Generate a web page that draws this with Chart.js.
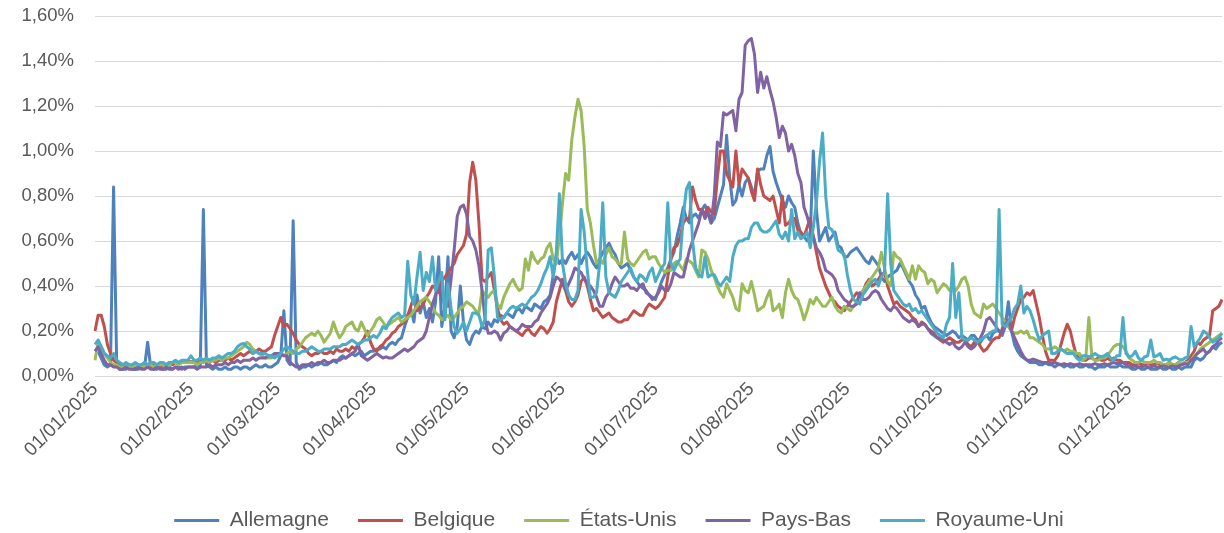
<!DOCTYPE html>
<html>
<head>
<meta charset="utf-8">
<title>Taux quotidien 2025</title>
<script src="https://cdn.jsdelivr.net/npm/chart.js@4.4.1/dist/chart.umd.min.js"></script>
<style>
  html, body { margin: 0; padding: 0; background: #ffffff; }
  #wrap { width: 1224px; height: 533px; }
</style>
</head>
<body>
<div id="wrap"><canvas id="rateChart" width="1224" height="533"></canvas></div>
<script>
// series names and colours, in legend order
const countries = ["Allemagne", "Belgique", "États-Unis", "Pays-Bas", "Royaume-Uni"];
const colors = ["#4F81BD", "#C0504D", "#9BBB59", "#8064A2", "#4BACC6"];

// y axis: 0 % to 1,60 % by 0,20 %
const yMin = 0, yMax = 1.6, yStep = 0.2;

// daily values in %, 01/01/2025 .. 31/12/2025 (one line per month)
const allemagne = [
  0.12,0.11,0.08,0.05,0.04,0.05,0.84,0.06,0.03,0.03,0.03,0.04,0.03,0.03,0.03,0.04,0.04,0.15,0.04,0.03,0.03,0.04,0.03,0.03,0.04,0.03,0.04,0.04,0.03,0.04,0.04,
  0.04,0.04,0.05,0.04,0.74,0.05,0.04,0.03,0.04,0.03,0.03,0.04,0.03,0.03,0.04,0.04,0.03,0.04,0.04,0.03,0.04,0.05,0.04,0.04,0.05,0.04,0.04,0.05,
  0.06,0.09,0.29,0.07,0.05,0.69,0.06,0.03,0.04,0.04,0.05,0.04,0.05,0.05,0.06,0.05,0.05,0.06,0.07,0.06,0.08,0.09,0.08,0.09,0.10,0.09,0.10,0.11,0.09,0.10,0.11,
  0.11,0.12,0.12,0.13,0.12,0.14,0.15,0.14,0.16,0.17,0.22,0.26,0.30,0.24,0.36,0.28,0.33,0.26,0.30,0.24,0.33,0.53,0.22,0.31,0.53,0.20,0.17,0.22,0.40,0.24,
  0.16,0.14,0.18,0.20,0.19,0.22,0.21,0.24,0.22,0.25,0.24,0.27,0.26,0.28,0.27,0.26,0.29,0.30,0.28,0.31,0.30,0.29,0.32,0.31,0.30,0.33,0.34,0.36,0.45,0.53,0.50,
  0.52,0.50,0.53,0.55,0.52,0.54,0.50,0.53,0.55,0.53,0.50,0.48,0.52,0.55,0.57,0.59,0.56,0.54,0.50,0.48,0.49,0.50,0.47,0.44,0.42,0.40,0.39,0.38,0.36,0.35,
  0.34,0.38,0.42,0.45,0.48,0.52,0.55,0.62,0.68,0.75,0.70,0.68,0.71,0.72,0.70,0.74,0.76,0.72,0.68,0.70,0.75,0.80,0.85,1.07,0.88,0.76,0.78,0.85,0.80,0.86,0.88,
  0.84,0.80,0.91,0.92,0.92,0.98,1.02,0.91,0.86,0.82,0.78,0.75,0.80,0.77,0.75,0.68,0.63,0.62,0.60,0.62,1.00,0.74,0.60,0.63,0.66,0.60,0.62,0.64,0.58,0.57,0.53,
  0.53,0.55,0.56,0.57,0.55,0.53,0.51,0.50,0.53,0.51,0.49,0.44,0.42,0.44,0.45,0.46,0.47,0.50,0.48,0.45,0.42,0.40,0.36,0.34,0.30,0.31,0.27,0.24,0.22,0.21,
  0.20,0.19,0.18,0.19,0.20,0.19,0.17,0.18,0.17,0.16,0.18,0.18,0.16,0.15,0.17,0.18,0.16,0.19,0.20,0.20,0.18,0.22,0.33,0.20,0.14,0.11,0.09,0.08,0.07,0.06,0.06,
  0.06,0.05,0.05,0.06,0.05,0.05,0.04,0.05,0.05,0.04,0.05,0.04,0.04,0.05,0.04,0.04,0.05,0.04,0.04,0.03,0.04,0.04,0.04,0.05,0.04,0.04,0.04,0.05,0.04,0.04,
  0.04,0.03,0.03,0.04,0.03,0.03,0.04,0.03,0.03,0.03,0.04,0.03,0.03,0.04,0.03,0.03,0.04,0.03,0.04,0.04,0.04,0.07,0.08,0.07,0.08,0.10,0.11,0.13,0.12,0.14,0.15
];
const belgique = [
  0.20,0.27,0.27,0.22,0.14,0.10,0.07,0.06,0.05,0.05,0.04,0.05,0.04,0.04,0.05,0.04,0.05,0.05,0.04,0.05,0.05,0.04,0.05,0.05,0.06,0.05,0.06,0.06,0.06,0.06,0.07,
  0.06,0.07,0.06,0.06,0.07,0.06,0.07,0.07,0.06,0.07,0.07,0.07,0.08,0.07,0.08,0.09,0.10,0.09,0.10,0.11,0.10,0.11,0.12,0.11,0.11,0.12,0.13,0.18,
  0.22,0.26,0.22,0.23,0.21,0.19,0.16,0.14,0.13,0.12,0.10,0.09,0.10,0.10,0.11,0.10,0.10,0.11,0.10,0.12,0.11,0.11,0.12,0.11,0.13,0.12,0.14,0.15,0.17,0.20,0.15,
  0.12,0.11,0.13,0.14,0.16,0.17,0.19,0.20,0.22,0.23,0.24,0.27,0.31,0.35,0.29,0.30,0.32,0.35,0.37,0.40,0.39,0.37,0.42,0.44,0.46,0.48,0.50,0.54,0.56,0.58,
  0.63,0.86,0.95,0.87,0.68,0.43,0.42,0.44,0.46,0.38,0.30,0.25,0.23,0.24,0.22,0.21,0.20,0.19,0.18,0.20,0.21,0.19,0.18,0.20,0.22,0.21,0.19,0.21,0.24,0.33,0.38,
  0.43,0.38,0.33,0.31,0.33,0.36,0.42,0.44,0.40,0.34,0.29,0.30,0.28,0.26,0.27,0.28,0.26,0.25,0.24,0.24,0.25,0.25,0.27,0.29,0.28,0.27,0.27,0.30,0.32,0.31,
  0.30,0.31,0.33,0.35,0.44,0.52,0.57,0.58,0.62,0.68,0.70,0.70,0.84,0.78,0.74,0.74,0.72,0.75,0.73,0.72,0.88,1.00,1.00,0.90,0.87,0.84,1.00,0.85,0.92,0.90,0.88,
  0.82,0.78,0.92,0.85,0.80,0.79,0.78,0.80,0.74,0.68,0.80,0.67,0.68,0.70,0.70,0.65,0.64,0.62,0.66,0.70,0.62,0.55,0.48,0.44,0.40,0.37,0.34,0.33,0.31,0.30,0.29,
  0.31,0.33,0.35,0.37,0.36,0.37,0.41,0.43,0.40,0.41,0.43,0.45,0.46,0.40,0.36,0.32,0.33,0.31,0.30,0.29,0.28,0.26,0.25,0.22,0.24,0.23,0.21,0.20,0.19,0.17,
  0.16,0.15,0.16,0.17,0.16,0.15,0.15,0.16,0.16,0.14,0.13,0.15,0.16,0.13,0.11,0.12,0.14,0.16,0.17,0.17,0.21,0.25,0.22,0.20,0.26,0.30,0.34,0.35,0.37,0.36,0.38,
  0.32,0.26,0.18,0.11,0.07,0.07,0.07,0.09,0.14,0.19,0.23,0.20,0.14,0.09,0.08,0.07,0.07,0.08,0.08,0.07,0.08,0.07,0.07,0.08,0.07,0.08,0.07,0.07,0.06,0.06,
  0.06,0.05,0.05,0.06,0.05,0.05,0.06,0.05,0.05,0.06,0.05,0.05,0.05,0.06,0.05,0.05,0.06,0.05,0.06,0.07,0.09,0.11,0.15,0.14,0.16,0.17,0.18,0.29,0.30,0.31,0.34
];
const etatsUnis = [
  0.07,0.15,0.13,0.10,0.08,0.06,0.05,0.05,0.04,0.04,0.05,0.04,0.04,0.05,0.04,0.05,0.04,0.05,0.05,0.04,0.05,0.05,0.05,0.04,0.05,0.06,0.06,0.05,0.06,0.06,0.06,
  0.06,0.06,0.05,0.06,0.06,0.07,0.06,0.07,0.07,0.08,0.07,0.08,0.08,0.09,0.10,0.11,0.12,0.13,0.15,0.14,0.12,0.11,0.10,0.09,0.08,0.08,0.08,0.09,
  0.09,0.10,0.09,0.10,0.11,0.10,0.12,0.13,0.15,0.17,0.18,0.19,0.18,0.20,0.18,0.15,0.17,0.19,0.24,0.20,0.17,0.19,0.22,0.23,0.24,0.21,0.20,0.24,0.21,0.18,0.20,
  0.22,0.25,0.26,0.24,0.22,0.23,0.24,0.25,0.26,0.24,0.25,0.26,0.27,0.29,0.31,0.33,0.34,0.35,0.33,0.31,0.28,0.27,0.25,0.26,0.27,0.25,0.26,0.28,0.30,0.31,
  0.33,0.32,0.31,0.29,0.28,0.38,0.36,0.35,0.37,0.38,0.32,0.30,0.35,0.38,0.41,0.43,0.40,0.38,0.39,0.52,0.47,0.55,0.52,0.50,0.52,0.53,0.57,0.59,0.52,0.50,0.62,
  0.77,0.90,0.87,1.05,1.15,1.23,1.18,1.02,0.74,0.68,0.58,0.50,0.52,0.50,0.54,0.57,0.53,0.52,0.50,0.50,0.64,0.52,0.50,0.49,0.51,0.53,0.55,0.56,0.52,0.53,
  0.53,0.50,0.48,0.46,0.47,0.47,0.50,0.51,0.49,0.47,0.52,0.51,0.50,0.47,0.44,0.56,0.55,0.52,0.47,0.44,0.40,0.37,0.35,0.41,0.38,0.35,0.30,0.29,0.41,0.38,0.37,
  0.42,0.36,0.29,0.30,0.31,0.35,0.38,0.29,0.30,0.32,0.26,0.37,0.43,0.38,0.35,0.34,0.30,0.25,0.29,0.34,0.32,0.35,0.33,0.31,0.31,0.33,0.35,0.31,0.29,0.28,0.31,
  0.30,0.29,0.31,0.33,0.36,0.38,0.40,0.42,0.44,0.46,0.48,0.55,0.48,0.42,0.40,0.55,0.53,0.52,0.49,0.46,0.43,0.49,0.43,0.49,0.47,0.46,0.41,0.43,0.42,0.37,
  0.39,0.41,0.40,0.38,0.40,0.38,0.40,0.43,0.44,0.40,0.32,0.28,0.27,0.26,0.32,0.30,0.31,0.32,0.30,0.28,0.26,0.24,0.22,0.20,0.19,0.19,0.20,0.19,0.20,0.17,0.17,
  0.16,0.15,0.14,0.12,0.12,0.12,0.13,0.12,0.12,0.11,0.12,0.11,0.11,0.10,0.10,0.07,0.08,0.26,0.08,0.07,0.07,0.08,0.08,0.09,0.11,0.13,0.14,0.14,0.13,0.11,
  0.08,0.07,0.06,0.06,0.07,0.06,0.06,0.06,0.07,0.06,0.06,0.05,0.05,0.06,0.05,0.05,0.06,0.05,0.06,0.06,0.07,0.09,0.10,0.12,0.13,0.14,0.15,0.16,0.17,0.18,0.19
];
const paysBas = [
  0.11,0.13,0.10,0.07,0.05,0.05,0.04,0.04,0.03,0.03,0.04,0.03,0.03,0.03,0.04,0.03,0.03,0.04,0.03,0.03,0.04,0.03,0.03,0.04,0.03,0.03,0.04,0.03,0.04,0.03,0.04,
  0.04,0.04,0.03,0.04,0.04,0.04,0.05,0.04,0.05,0.05,0.05,0.06,0.05,0.06,0.06,0.07,0.06,0.07,0.07,0.07,0.08,0.07,0.08,0.08,0.08,0.09,0.09,0.10,
  0.10,0.10,0.09,0.09,0.06,0.05,0.04,0.04,0.05,0.05,0.05,0.06,0.05,0.06,0.06,0.07,0.06,0.06,0.07,0.07,0.07,0.08,0.08,0.09,0.10,0.11,0.14,0.09,0.08,0.07,0.08,
  0.09,0.10,0.09,0.08,0.085,0.08,0.08,0.09,0.10,0.11,0.12,0.11,0.12,0.13,0.15,0.16,0.17,0.20,0.26,0.32,0.36,0.41,0.35,0.32,0.31,0.43,0.56,0.71,0.75,0.76,
  0.72,0.62,0.60,0.56,0.49,0.38,0.25,0.19,0.19,0.20,0.19,0.16,0.19,0.20,0.22,0.21,0.20,0.21,0.23,0.22,0.22,0.22,0.24,0.25,0.28,0.30,0.32,0.35,0.40,0.44,0.43,
  0.41,0.38,0.41,0.44,0.48,0.47,0.46,0.43,0.41,0.40,0.38,0.35,0.31,0.31,0.35,0.37,0.41,0.44,0.42,0.40,0.40,0.41,0.39,0.39,0.38,0.40,0.41,0.37,0.36,0.34,
  0.35,0.37,0.40,0.38,0.38,0.41,0.46,0.45,0.44,0.44,0.50,0.56,0.60,0.64,0.68,0.74,0.70,0.73,0.68,0.80,1.04,1.02,1.17,1.16,1.17,1.18,1.09,1.23,1.26,1.47,1.49,
  1.50,1.43,1.26,1.35,1.28,1.33,1.27,1.22,1.15,1.06,1.11,1.08,1.00,1.03,0.98,0.90,0.86,0.75,0.71,0.66,0.62,0.57,0.55,0.52,0.47,0.46,0.45,0.43,0.38,0.36,0.34,
  0.33,0.31,0.31,0.32,0.37,0.34,0.34,0.35,0.37,0.38,0.37,0.34,0.32,0.30,0.29,0.31,0.30,0.28,0.26,0.25,0.24,0.25,0.24,0.22,0.23,0.23,0.21,0.19,0.18,0.17,
  0.17,0.16,0.15,0.14,0.15,0.13,0.12,0.13,0.15,0.13,0.12,0.13,0.15,0.17,0.20,0.25,0.26,0.24,0.22,0.20,0.19,0.23,0.25,0.20,0.17,0.14,0.11,0.085,0.07,0.07,0.075,
  0.07,0.065,0.06,0.06,0.06,0.055,0.06,0.055,0.05,0.055,0.05,0.055,0.05,0.05,0.055,0.05,0.05,0.05,0.05,0.055,0.05,0.05,0.055,0.05,0.055,0.06,0.055,0.06,0.06,0.05,
  0.045,0.04,0.045,0.04,0.04,0.045,0.04,0.04,0.045,0.04,0.04,0.045,0.04,0.04,0.045,0.04,0.045,0.05,0.055,0.05,0.07,0.08,0.10,0.11,0.12,0.10,0.11,0.13,0.14,0.16,0.17
];
const royaumeUni = [
  0.14,0.16,0.13,0.10,0.09,0.08,0.10,0.07,0.06,0.05,0.06,0.05,0.05,0.06,0.05,0.05,0.06,0.05,0.06,0.06,0.05,0.06,0.06,0.05,0.06,0.06,0.07,0.06,0.07,0.07,0.07,
  0.09,0.07,0.07,0.08,0.07,0.08,0.07,0.08,0.08,0.09,0.08,0.09,0.10,0.10,0.11,0.13,0.14,0.145,0.13,0.12,0.10,0.11,0.10,0.10,0.10,0.09,0.09,0.08,
  0.09,0.10,0.12,0.13,0.12,0.11,0.10,0.10,0.11,0.11,0.12,0.13,0.12,0.11,0.11,0.12,0.12,0.12,0.13,0.13,0.13,0.14,0.14,0.15,0.16,0.15,0.14,0.15,0.16,0.16,0.17,
  0.18,0.17,0.19,0.22,0.21,0.24,0.26,0.27,0.28,0.26,0.27,0.51,0.36,0.32,0.44,0.55,0.38,0.46,0.42,0.53,0.38,0.42,0.46,0.25,0.41,0.30,0.22,0.19,0.21,0.24,
  0.20,0.24,0.28,0.28,0.27,0.22,0.25,0.56,0.57,0.44,0.26,0.25,0.26,0.28,0.30,0.31,0.30,0.31,0.32,0.31,0.33,0.35,0.36,0.38,0.41,0.45,0.48,0.53,0.44,0.55,0.81,
  0.50,0.41,0.36,0.34,0.34,0.38,0.74,0.64,0.47,0.35,0.35,0.37,0.50,0.77,0.44,0.37,0.36,0.35,0.38,0.42,0.44,0.46,0.48,0.44,0.42,0.45,0.44,0.42,0.46,0.48,
  0.42,0.45,0.48,0.50,0.77,0.50,0.47,0.50,0.52,0.71,0.83,0.86,0.60,0.48,0.45,0.44,0.53,0.44,0.45,0.45,0.42,0.40,0.42,0.44,0.42,0.53,0.58,0.60,0.60,0.61,0.61,
  0.66,0.68,0.68,0.65,0.64,0.64,0.65,0.67,0.69,0.63,0.61,0.64,0.60,0.74,0.61,0.64,0.61,0.62,0.64,0.57,0.66,0.77,0.95,1.08,0.80,0.66,0.65,0.62,0.56,0.55,0.54,
  0.45,0.38,0.34,0.33,0.32,0.36,0.38,0.40,0.42,0.43,0.40,0.44,0.46,0.81,0.50,0.38,0.36,0.34,0.32,0.31,0.32,0.29,0.30,0.28,0.29,0.27,0.25,0.23,0.21,0.19,
  0.18,0.17,0.23,0.26,0.50,0.26,0.37,0.17,0.16,0.16,0.17,0.16,0.15,0.16,0.17,0.18,0.19,0.20,0.20,0.74,0.23,0.22,0.24,0.26,0.30,0.32,0.40,0.28,0.31,0.29,0.25,
  0.20,0.16,0.18,0.19,0.20,0.10,0.10,0.11,0.12,0.11,0.10,0.10,0.10,0.08,0.07,0.09,0.09,0.085,0.09,0.10,0.09,0.085,0.09,0.10,0.08,0.07,0.09,0.09,0.26,0.10,
  0.085,0.09,0.11,0.08,0.07,0.085,0.09,0.16,0.085,0.09,0.10,0.07,0.075,0.07,0.08,0.085,0.075,0.07,0.08,0.085,0.22,0.13,0.15,0.17,0.20,0.19,0.17,0.15,0.16,0.17,0.19
];

// one label per day of 2025, dd/mm/yyyy
const days = [];
for (let d = new Date(Date.UTC(2025, 0, 1)); d.getUTCFullYear() === 2025; d.setUTCDate(d.getUTCDate() + 1)) {
  const dd = String(d.getUTCDate()).padStart(2, "0");
  const mm = String(d.getUTCMonth() + 1).padStart(2, "0");
  days.push(dd + "/" + mm + "/2025");
}

const seriesValues = [allemagne, belgique, etatsUnis, paysBas, royaumeUni];

const textColor = "#595959";
const fontFamily = "'Liberation Sans', Arial, sans-serif";

// legend sits a bit lower and a bit further right than Chart.js' default centring
const legendShift = {
  id: "legendShift",
  beforeInit(chart) {
    const fit = chart.legend.fit;
    chart.legend.fit = function () {
      fit.call(this);
      this.height -= 8;
      if (this.lineWidths) this.lineWidths[0] -= 16;
    };
  }
};

const ctx = document.getElementById("rateChart").getContext("2d");
new Chart(ctx, {
  type: "line",
  data: {
    labels: days,
    datasets: countries.map((name, i) => ({
      label: name,
      data: seriesValues[i],
      borderColor: colors[i],
      backgroundColor: colors[i],
      borderWidth: 3,
      pointRadius: 0,
      pointHoverRadius: 0,
      tension: 0,
      fill: false,
      borderJoinStyle: "round",
      order: countries.length - i
    }))
  },
  options: {
    responsive: false,
    animation: false,
    layout: { padding: { top: 16, right: 2, left: 0, bottom: 0 } },
    plugins: {
      tooltip: { enabled: false },
      legend: {
        position: "bottom",
        labels: {
          usePointStyle: true,
          pointStyle: "line",
          pointStyleWidth: 45,
          padding: 29,
          color: textColor,
          font: { family: fontFamily, size: 21 },
          sort: (a, b) => a.datasetIndex - b.datasetIndex
        }
      }
    },
    scales: {
      x: {
        grid: { display: false, drawTicks: false },
        border: { display: false },
        ticks: {
          autoSkip: false,
          minRotation: 45,
          maxRotation: 45,
          padding: 2,
          color: textColor,
          font: { family: fontFamily, size: 19 },
          callback: (value, index) => days[index].startsWith("01/") ? days[index] : ""
        },
        afterFit: (scale) => {
          scale.height = 105;
          scale.paddingLeft = 0;
          scale.paddingRight = 0;
        }
      },
      y: {
        min: yMin,
        max: yMax,
        grid: { color: "#d9d9d9", lineWidth: 1, drawTicks: false },
        border: { display: false },
        ticks: {
          stepSize: yStep,
          padding: 21,
          color: textColor,
          font: { family: fontFamily, size: 18.5 },
          callback: (v) => v.toFixed(2).replace(".", ",") + "%"
        },
        afterFit: (scale) => {
          scale.width = 95;
          scale.paddingTop = 0;
          scale.paddingBottom = 0;
        }
      }
    }
  },
  plugins: [legendShift]
});
</script>
</body>
</html>
